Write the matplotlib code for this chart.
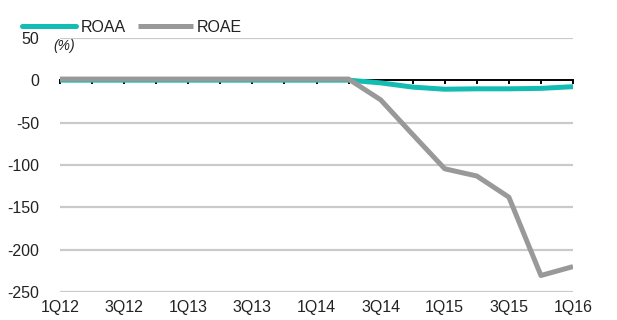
import matplotlib
matplotlib.use("Agg")
import matplotlib.pyplot as plt
import numpy as np

quarters = ["1Q12", "2Q12", "3Q12", "4Q12", "1Q13", "2Q13", "3Q13", "4Q13",
            "1Q14", "2Q14", "3Q14", "4Q14", "1Q15", "2Q15", "3Q15", "4Q15", "1Q16"]
roaa = [0.2, 0.2, 0.2, 0.2, 0.2, 0.2, 0.2, 0.2, 0.2, 0.2,
        -3.0, -8.0, -10.5, -10.0, -10.0, -9.5, -7.5]
roae = [1.5, 1.5, 1.5, 1.5, 1.5, 1.5, 1.5, 1.5, 1.5, 1.5,
        -23.0, -64.0, -104.5, -113.0, -138.0, -230.5, -220.0]
y_ticks = [50, 0, -50, -100, -150, -200, -250]

TEAL = "#14BDB4"
GREY = "#999999"
GRID = "#C9CBCB"
TEXT = "#222222"

plt.rcParams["font.family"] = ["Liberation Sans", "DejaVu Sans"]

fig = plt.figure(figsize=(6.17, 3.20), dpi=100)
ax = fig.add_axes([60 / 617, 1 - 292 / 320, (573 - 60) / 617, (292 - 38) / 320])

x = np.arange(len(quarters))
ax.set_xlim(0, len(quarters) - 1)
ax.set_ylim(-250, 50)

# horizontal grid (zero handled by the axis line)
for v in y_ticks:
    if v != 0:
        ax.axhline(v, color=GRID, lw=1.6, zorder=1)

ax.plot(x, roaa, color=TEAL, lw=3.6, solid_capstyle="round", zorder=3, label="ROAA")
ax.plot(x, roae, color=GREY, lw=3.6, solid_capstyle="butt", zorder=4, label="ROAE")

# zero axis with quarterly ticks
for s in ["top", "right", "left"]:
    ax.spines[s].set_visible(False)
ax.spines["bottom"].set_position(("data", 0))
ax.spines["bottom"].set_color("black")
ax.spines["bottom"].set_linewidth(1.4)
ax.spines["bottom"].set_zorder(2)
ax.set_xticks(x)
ax.tick_params(axis="x", direction="out", length=3, width=1.4, color="black",
               labelbottom=False)

ax.set_yticks(y_ticks)
ax.set_yticklabels([str(v) for v in y_ticks])
ax.tick_params(axis="y", length=0, pad=15, labelsize=11.5, labelcolor=TEXT)

# quarter labels along the bottom edge
sec = ax.secondary_xaxis("bottom")
sec.set_xticks(x[::2])
sec.set_xticklabels(quarters[::2])
sec.tick_params(length=0, pad=6, labelsize=11.5, labelcolor=TEXT)
sec.spines["bottom"].set_visible(False)

ax.text(53 / 617, 1 - 46 / 320, "(%)", transform=fig.transFigure, fontsize=10,
        style="italic", color=TEXT, ha="left", va="center")

leg = ax.legend(loc="lower left", bbox_to_anchor=(22 / 617, 1 - 35 / 320),
                bbox_transform=fig.transFigure, ncol=2, frameon=False,
                fontsize=11.5, handlelength=3.4, handletextpad=0.25,
                columnspacing=0.8, borderaxespad=0, borderpad=0)
for t in leg.get_texts():
    t.set_color(TEXT)

fig.savefig("out.png", dpi=100)
